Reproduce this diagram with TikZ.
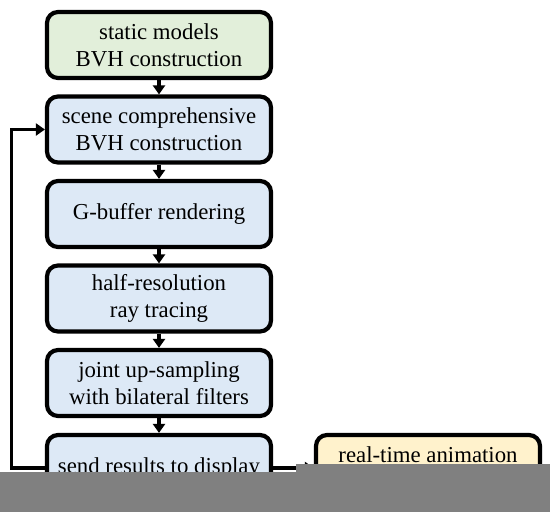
\documentclass[tikz,border=0pt]{standalone}
\usepackage{fontspec}
\setmainfont{Liberation Serif}
\usetikzlibrary{arrows.meta}
\definecolor{boxgreen}{RGB}{226,239,218}
\definecolor{boxblue}{RGB}{221,233,246}
\definecolor{boxyellow}{RGB}{255,242,204}
\definecolor{maskgray}{RGB}{128,128,128}
\tikzset{
  stepbox/.style={draw=black, line width=4.2pt, rounded corners=11pt,
    minimum width=224pt, minimum height=66pt, align=center,
    font=\fontsize{22.8}{26.8}\selectfont, inner sep=0pt},
  conn/.style={draw=black, line width=3.2pt, -{Triangle[length=9pt,width=12pt]}},
}
\begin{document}
\begin{tikzpicture}[x=1pt,y=-1pt]
\useasboundingbox (0,0) rectangle (550,512);
\node[stepbox, fill=boxgreen] (b1) at (159,45) {static models\\BVH construction};
\node[stepbox, fill=boxblue] (b2) at (159,129.5) {scene comprehensive\\BVH construction};
\node[stepbox, fill=boxblue] (b3) at (159,214) {G-buffer rendering};
\node[stepbox, fill=boxblue] (b4) at (159,298.5) {half-resolution\\ray tracing};
\node[stepbox, fill=boxblue] (b5) at (159,383) {joint up-sampling\\with bilateral filters};
\node[stepbox, fill=boxblue] (b6) at (159,468) {send results to display};
\node[stepbox, fill=boxyellow] (rt) at (428,468) {real-time animation\\\mbox{}};
\draw[conn] (b1) -- (b2);
\draw[conn] (b2) -- (b3);
\draw[conn] (b3) -- (b4);
\draw[conn] (b4) -- (b5);
\draw[conn] (b5) -- (b6);
\draw[conn] (b6) -- (rt);
\coordinate (fb) at (11.5,468);
\draw[conn] (b6.west) -- (fb) |- (b2.west);
\fill[maskgray] (0,472) rectangle (550,512);
\fill[maskgray] (296,464) rectangle (550,512);
\end{tikzpicture}
\end{document}
